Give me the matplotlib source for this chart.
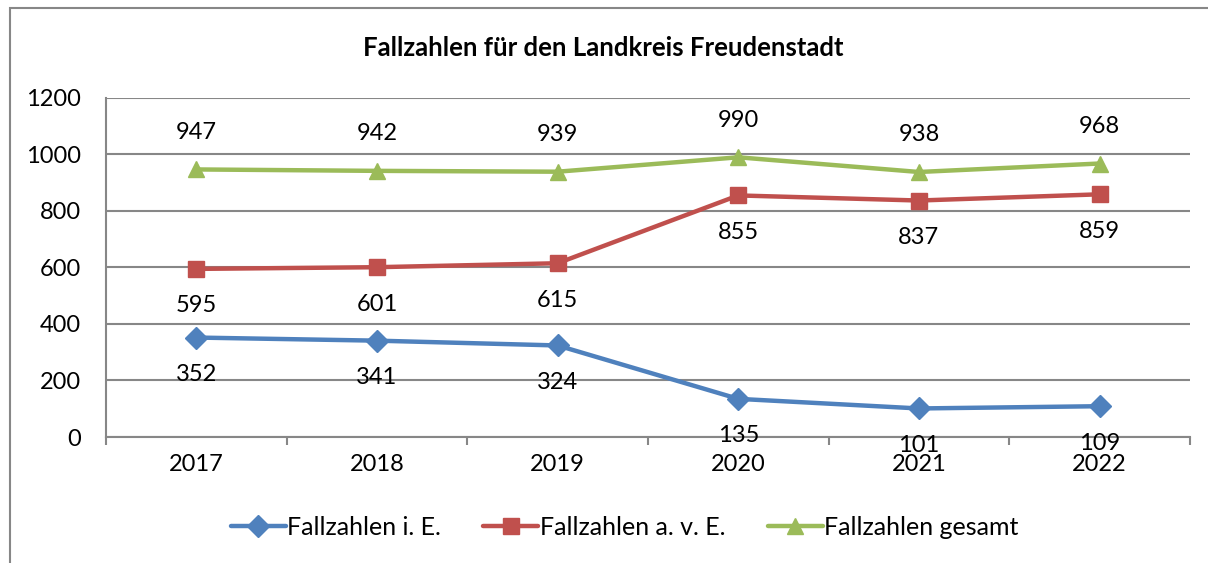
import matplotlib
matplotlib.use("Agg")
import matplotlib.pyplot as plt
from matplotlib.patches import Rectangle

years = ["2017", "2018", "2019", "2020", "2021", "2022"]
faelle_ie = [352, 341, 324, 135, 101, 109]
faelle_ave = [595, 601, 615, 855, 837, 859]
faelle_gesamt = [947, 942, 939, 990, 938, 968]

plt.rcParams["font.family"] = ["Lato", "DejaVu Sans"]

fig = plt.figure(figsize=(12.08, 5.63), dpi=100)
ax = fig.add_axes([0.0877, 0.2238, 0.8973, 0.6022])

# outer chart border (left and top visible, rest runs off the image)
fig.patches.append(Rectangle((10 / 1208, -0.1), 1.2, 0.1 + (563 - 8) / 563,
                             transform=fig.transFigure, fill=False,
                             edgecolor="#878787", lw=1.5))

x = list(range(len(years)))
series = [
    (faelle_ie, "#4F81BD", "D", 11, "Fallzahlen i. E.", -1),
    (faelle_ave, "#C0504D", "s", 12, "Fallzahlen a. v. E.", -1),
    (faelle_gesamt, "#9BBB59", "^", 12, "Fallzahlen gesamt", 1),
]
for vals, col, mk, ms, lab, side in series:
    ax.plot(x, vals, color=col, lw=3.2, marker=mk, ms=ms, label=lab,
            solid_capstyle="round", zorder=3)
    for xi, v in zip(x, vals):
        ax.annotate(str(v), (xi, v), xytext=(0, 37 * side), textcoords="offset pixels",
                    ha="center", va="center", fontsize=17, color="black")

ax.set_xlim(-0.5, 5.5)
ax.set_ylim(0, 1200)
ax.set_yticks(range(0, 1201, 200))
ax.set_xticks(x)
ax.set_xticklabels(years)
ax.grid(axis="y", color="#878787", lw=1.5)
ax.set_axisbelow(True)
for s in ["top", "right"]:
    ax.spines[s].set_visible(False)
for s in ["left", "bottom"]:
    ax.spines[s].set_color("#878787")
    ax.spines[s].set_linewidth(1.5)
ax.tick_params(axis="y", length=0, labelsize=17, pad=18)
ax.tick_params(axis="x", length=6, color="#878787", width=1.5, labelsize=17, pad=12)
ax.set_xticks([i + 0.5 for i in range(-1, 6)], minor=True)
ax.tick_params(axis="x", which="minor", length=6, color="#878787", width=1.5)
ax.tick_params(axis="x", which="major", length=0)

fig.text(0.499, 0.915, "Fallzahlen für den Landkreis Freudenstadt", ha="center", va="center",
         fontsize=18.5, fontweight="bold")

fig.legend(loc="center", bbox_to_anchor=(0.517, 0.063), ncol=3, frameon=False,
           fontsize=18, handlelength=2.2, columnspacing=1.7, handletextpad=0.05)

fig.savefig("out.png", dpi=100)
